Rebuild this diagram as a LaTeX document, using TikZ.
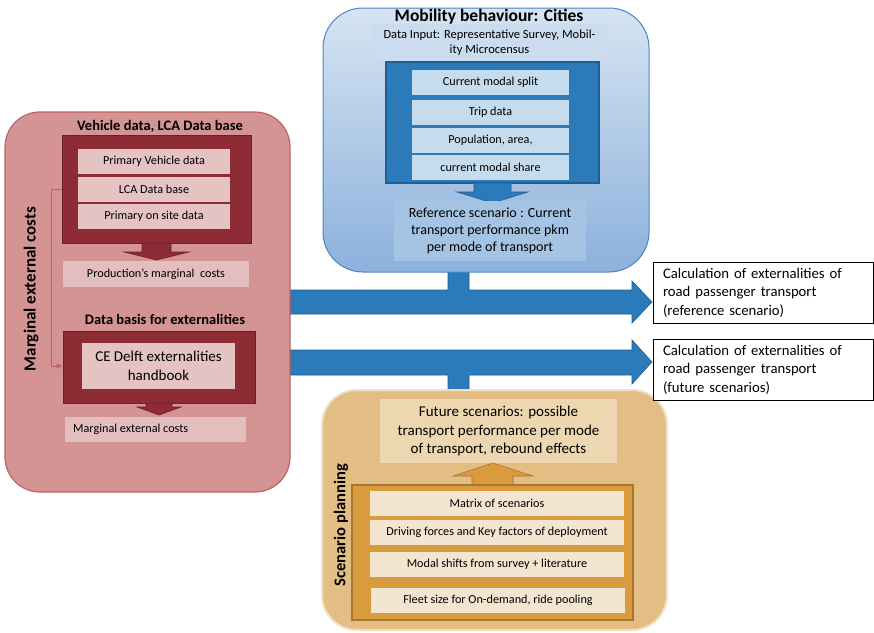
\documentclass[tikz,border=0pt]{standalone}
\usepackage{fontspec}
\setmainfont{Carlito}
\usetikzlibrary{arrows.meta}

\definecolor{redbg}{RGB}{212,148,148}
\definecolor{redline}{RGB}{192,98,98}
\definecolor{darkred}{RGB}{142,44,54}
\definecolor{darkredline}{RGB}{110,30,40}
\definecolor{redcellc}{RGB}{230,195,195}
\definecolor{redlight}{RGB}{227,190,190}
\definecolor{bluetop}{RGB}{214,228,242}
\definecolor{bluebot}{RGB}{140,177,220}
\definecolor{blueline}{RGB}{74,134,197}
\definecolor{darkblue}{RGB}{43,123,186}
\definecolor{darkblueline}{RGB}{31,94,145}
\definecolor{bluecellc}{RGB}{197,220,238}
\definecolor{bluelight}{RGB}{202,220,238}
\definecolor{bluemid}{RGB}{165,195,227}
\definecolor{tanbg}{RGB}{226,190,132}
\definecolor{tanline}{RGB}{242,224,196}
\definecolor{tanlight}{RGB}{237,215,177}
\definecolor{orangebox}{RGB}{217,155,62}
\definecolor{orangeline}{RGB}{168,118,44}
\definecolor{orangecellc}{RGB}{243,230,208}

\tikzset{
  smallfont/.style={font=\fontsize{12.2}{14}\selectfont},
  redcell/.style={fill=redcellc, smallfont, inner sep=0pt, minimum width=152pt, minimum height=25pt},
  bluecell/.style={fill=bluecellc, smallfont, inner sep=0pt, minimum width=157pt, minimum height=25pt},
  orangecell/.style={fill=orangecellc, smallfont, inner sep=0pt, minimum width=254pt, minimum height=25pt},
  boxtitle/.style={font=\bfseries\fontsize{14.5}{17}\selectfont, inner sep=0pt},
  sidetitle/.style={font=\bfseries\fontsize{17}{20}\selectfont, inner sep=0pt, rotate=90},
  calcbox/.style={draw=black, line width=0.6pt, fill=white, align=left, text width=200pt, inner xsep=10pt, minimum height=61pt, font=\fontsize{14.7}{18.5}\selectfont},
  blockarrow/.style={fill=darkblue, draw=darkblueline, line width=0.6pt},
  redarrow/.style={fill=darkred, draw=darkredline, line width=0.6pt},
}

\begin{document}
\begin{tikzpicture}[x=1pt,y=1pt,yscale=-1,xscale=1]
\useasboundingbox (0,0) rectangle (874,632);

%Shape: Arrow (reference scenario) 
\draw [blockarrow] (290,290) -- (448,290) -- (448,268) -- (469,268) -- (469,290) -- (632,290) -- (632,281) -- (652,302) -- (632,323) -- (632,314) -- (290,314) -- cycle ;
%Shape: Arrow (future scenarios) 
\draw [blockarrow] (290,350) -- (632,350) -- (632,340) -- (652,362) -- (632,384) -- (632,375) -- (469,375) -- (469,396) -- (448,396) -- (448,375) -- (290,375) -- cycle ;

%Shape: Rounded Rect (marginal external costs) 
\draw [fill=redbg, draw=redline, line width=1.2pt, rounded corners=35pt] (5,112) rectangle (290,492) ;
% Text Node
\node [sidetitle] (mecside) at (31,289) {Marginal external costs};
% Text Node
\node [boxtitle] (vehtitle) at (160,126) {Vehicle data, LCA Data base};
%Shape: Rectangle 
\node [fill=darkred, draw=darkredline, line width=1pt, minimum width=189pt, minimum height=108pt, inner sep=0pt] (vehdark) at (156.5,189) {};
\node [redcell] (pvd) at (154,161.5) {Primary Vehicle data};
\node [redcell] (lca) at (154,189.5) {LCA Data base};
\node [redcell] (onsite) at (154,216.5) {Primary on site data};
%Shape: Down Arrow 
\draw [redarrow] (142,243) -- (171,243) -- (171,252) -- (189,252) -- (156.5,260) -- (124,252) -- (142,252) -- cycle ;
\node [fill=redlight, smallfont, inner sep=0pt, minimum width=186pt, minimum height=26pt] (prodcost) at (156,274) {Production’s marginal\ \ costs};
% Text Node
\node [boxtitle] (basistitle) at (165,319) {Data basis for externalities};
%Shape: Rectangle 
\node [fill=darkred, draw=darkredline, line width=1pt, minimum width=192pt, minimum height=72pt, inner sep=0pt] (basisdark) at (159,367) {};
\node [fill=redcellc, align=center, inner sep=0pt, minimum width=153pt, minimum height=46pt, font=\fontsize{15}{19}\selectfont] (cedelft) at (158.5,366) {CE Delft externalities\\handbook};
%Shape: Down Arrow 
\draw [redarrow] (146,403) -- (172,403) -- (172,407) -- (181,407) -- (159,415) -- (137,407) -- (146,407) -- cycle ;
\node [fill=redlight, smallfont, inner sep=0pt, minimum width=181pt, minimum height=25pt] (margcost) at (155.5,429.5) {};
\node [smallfont, anchor=west, inner sep=0pt] (margtext) at (73,429.5) {Marginal external costs};
% Connector
\draw [redline, line width=0.8pt, -{Triangle[length=6pt,width=5pt]}] (vehdark.west |- lca) -- ++(-10,0) |- (basisdark.west |- cedelft) ;

%Shape: Rounded Rect (mobility behaviour) 
\draw [top color=bluetop, bottom color=bluebot, draw=blueline, line width=1pt, rounded corners=40pt] (323,8) rectangle (649,272) ;
% Text Node
\node [font=\bfseries\fontsize{17.5}{20}\selectfont, inner sep=0pt] (mobtitle) at (489,17) {Mobility behaviour: Cities};
\node [fill=bluelight, align=center, inner sep=0pt, minimum width=235pt, minimum height=38pt, font=\fontsize{12.5}{15}\selectfont] (datainput) at (489.5,43) {Data Input: Representative Survey, Mobil-\\ity Microcensus};
%Shape: Rectangle 
\node [fill=darkblue, draw=darkblueline, line width=1.5pt, minimum width=213pt, minimum height=121pt, inner sep=0pt] (bluedark) at (492.5,122.5) {};
\node [bluecell] (modalsplit) at (490.5,82) {Current modal split};
\node [bluecell] (tripdata) at (490.5,112) {Trip data};
\node [bluecell] (population) at (490.5,140.5) {Population, area,};
\node [bluecell] (modalshare) at (490.5,167.5) {current modal share};
%Shape: Down Arrow 
\draw [blockarrow] (474,183) -- (511,183) -- (511,192) -- (528,192) -- (492.5,203) -- (457,192) -- (474,192) -- cycle ;
\node [fill=bluemid, align=center, inner sep=0pt, minimum width=192pt, minimum height=60pt, font=\fontsize{14}{17}\selectfont] (refscen) at (490,231) {Reference scenario : Current\\transport performance pkm\\per mode of transport};

%Shape: Rounded Rect (scenario planning) 
\draw [fill=tanbg, draw=tanline, line width=2pt, rounded corners=35pt] (322,390) rectangle (667,630) ;
% Text Node
\node [font=\bfseries\fontsize{16.5}{19}\selectfont, inner sep=0pt, rotate=90] (scenside) at (341,525) {Scenario planning};
\node [fill=tanlight, align=center, inner sep=0pt, minimum width=237pt, minimum height=64pt, font=\fontsize{15}{18.5}\selectfont] (future) at (498.5,431) {Future scenarios: possible\\transport performance per mode\\of transport, rebound effects};
%Shape: Up Arrow 
\draw [fill=orangebox, draw=orangeline, line width=0.6pt] (472,486) -- (472,476) -- (453,476) -- (493,463) -- (533,476) -- (513,476) -- (513,486) -- cycle ;
%Shape: Rectangle 
\node [fill=orangebox, draw=orangeline, line width=1.5pt, minimum width=281pt, minimum height=135pt, inner sep=0pt] (orangedark) at (492.5,552.5) {};
\node [orangecell] (matrix) at (497,503.5) {Matrix of scenarios};
\node [orangecell] (driving) at (497,532) {Driving forces and Key factors of deployment};
\node [orangecell] (modalshift) at (497,564.5) {Modal shifts from survey + literature};
\node [orangecell] (fleet) at (498,600.5) {Fleet size for On-demand, ride pooling};

% Text Node
\node [calcbox] (calcref) at (763,292.5) {Calculation of externalities of\\road passenger transport\\(reference scenario)};
% Text Node
\node [calcbox] (calcfut) at (763,369.5) {Calculation of externalities of\\road passenger transport\\(future scenarios)};

\end{tikzpicture}
\end{document}
